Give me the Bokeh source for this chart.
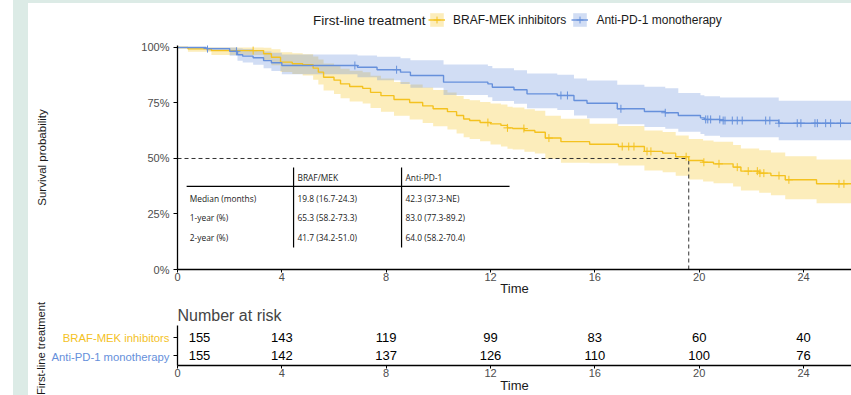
import numpy as np
from bokeh.plotting import figure
from bokeh.models import (Range1d, FixedTicker, PrintfTickFormatter, Legend, LegendItem,
                          Label, ColumnDataSource, Div, Spacer)
from bokeh.layouts import column, row
from bokeh.core.properties import value
from bokeh.embed import file_html
from bokeh.resources import INLINE

# ---------------- data ----------------
groups = ["BRAF-MEK inhibitors", "Anti-PD-1 monotherapy"]
legend_title = "First-line treatment"

braf_time = [0, 0.4, 1.3, 3.3, 3.6, 3.95, 4.4, 4.8, 5.2, 5.4, 5.6, 6.0, 6.25, 6.6, 7.1, 7.4, 7.8, 8.3,
             8.9, 9.4, 9.8, 10.35, 10.7, 10.97, 11.2, 11.6, 12.0, 12.4, 12.65, 12.85, 13.3, 13.7, 14.1,
             14.7, 15.8, 16.9, 17.9, 18.6, 19.1, 19.6, 20.15, 20.55, 21.3, 21.6, 22.3, 22.75, 23.3, 24.5]
braf_surv = [100, 99.4, 98.6, 97.2, 95.6, 93.4, 92.7, 92.2, 90.7, 88.9, 86.6, 85.3, 83.6, 82.4, 81.6,
             79.8, 78.3, 76.6, 75.2, 73.7, 72.4, 71.1, 69.4, 67.8, 67.1, 66.2, 65.6, 64.9, 63.8, 63.5,
             62.6, 61.8, 59.2, 57.6, 56.4, 55.4, 53.2, 52.4, 50.8, 49.1, 48.3, 47.6, 46.1, 44.3, 43.4,
             42.3, 40.4, 38.6]
braf_lower = [100, 98.1, 96.6, 94.3, 92.0, 89.0, 88.1, 87.4, 85.5, 83.3, 80.6, 79.1, 77.1, 75.7, 74.8,
              72.8, 71.1, 69.2, 67.6, 66.0, 64.5, 63.1, 61.3, 59.6, 58.8, 57.8, 56.3, 55.4, 54.4, 54.0,
              53.0, 52.2, 49.8, 48.1, 47.9, 46.8, 44.6, 43.8, 42.2, 40.5, 39.6, 38.9, 37.4, 35.6, 34.6,
              33.5, 31.6, 29.8]
braf_upper = [100, 100, 100, 99.9, 99.2, 97.9, 97.4, 97.0, 95.9, 94.6, 92.8, 91.8, 90.4, 89.5, 88.8,
              87.3, 86.0, 84.5, 83.3, 82.0, 80.8, 79.7, 78.2, 76.8, 76.2, 75.4, 74.8, 74.3, 73.3, 73.0,
              72.2, 71.5, 69.3, 67.9, 65.6, 64.6, 62.6, 61.9, 60.4, 58.8, 58.1, 57.5, 56.1, 54.5, 53.7,
              52.7, 51.0, 49.5]
braf_censor = [2.9, 11.9, 12.65, 13.28, 14.24, 17.05, 17.3, 17.5, 18.0, 18.15, 19.5, 20.18, 20.76,
               21.46, 21.88, 22.23, 22.33, 22.48, 23.06, 23.44, 25.36, 25.55]

pd1_time = [0, 1.1, 2.0, 2.3, 2.5, 2.9, 3.3, 3.6, 4.0, 6.9, 7.65, 8.55, 8.93, 10.2, 11.9, 12.07, 12.9,
            13.4, 14.56, 15.2, 15.7, 16.86, 17.9, 18.7, 19.2, 20.05, 20.2, 20.8, 23.05]
pd1_surv = [100, 99.5, 98.3, 96.7, 96.1, 95.4, 94.1, 93.1, 91.9, 91.1, 90.0, 88.9, 87.4, 84.4, 83.6,
            82.1, 81.0, 79.1, 78.4, 76.1, 74.9, 72.4, 71.2, 70.6, 69.4, 68.3, 67.6, 67.1, 65.9]
pd1_lower = [100, 98.5, 96.3, 94.0, 93.2, 92.2, 90.6, 89.4, 87.9, 86.6, 85.2, 83.6, 81.9, 78.6, 77.6,
             75.9, 74.7, 72.6, 71.8, 69.4, 68.1, 65.4, 64.2, 63.4, 62.1, 61.0, 60.2, 59.6, 58.2]
pd1_upper = [100, 100, 100, 99.6, 99.3, 98.9, 98.2, 97.6, 96.9, 96.4, 95.8, 95.2, 94.2, 92.3, 91.7,
             90.6, 89.8, 88.3, 87.7, 86.0, 85.1, 83.2, 82.3, 81.6, 79.5, 78.5, 78.0, 77.5, 76.0]
pd1_censor = [1.15, 2.26, 6.8, 8.4, 14.7, 14.95, 17.0, 18.7, 20.25, 20.33, 20.44, 20.79, 20.92, 20.99,
              21.27, 21.46, 21.65, 22.55, 22.71, 23.06, 23.76, 23.9, 24.44, 24.53, 24.85, 25.04, 25.42]

followup_end = 26.0

time_breaks = [0, 4, 8, 12, 16, 20, 24]
surv_breaks = [0, 25, 50, 75, 100]
risk_braf = [155, 143, 119, 99, 83, 60, 40]
risk_pd1 = [155, 142, 137, 126, 110, 100, 76]

table_header = ["BRAF/MEK", "Anti-PD-1"]
table_rows = ["Median (months)", "1-year (%)", "2-year (%)"]
table_braf = ["19.8 (16.7-24.3)", "65.3 (58.2-73.3)", "41.7 (34.2-51.0)"]
table_pd1 = ["42.3 (37.3-NE)", "83.0 (77.3-89.2)", "64.0 (58.2-70.4)"]

# ---------------- styles ----------------
YEL = "#F4C21F"
BLU = "#6690DB"
MINT = "#DCEBE6"
FONT = "Liberation Sans"
TFONT = "Open Sans"
X_END = 25.84
BAND_ALPHA = 0.3
NAN = float("nan")


def extend(t, s):
    return list(t) + [followup_end], list(s) + [s[-1]]


series = [
    (braf_time, braf_surv, braf_lower, braf_upper, braf_censor, YEL, groups[0]),
    (pd1_time, pd1_surv, pd1_lower, pd1_upper, pd1_censor, BLU, groups[1]),
]

# ---------------- legend strip (frame aligned with the plot frame) ----------------
top = figure(width=823, height=33, x_range=Range1d(177, 851), y_range=Range1d(36, 3),
             x_axis_location=None, y_axis_location=None,
             min_border_left=149, min_border_right=0, min_border_top=0, min_border_bottom=0,
             output_backend="svg", toolbar_location=None)
top.grid.visible = False
top.outline_line_color = None
leg_items = []
for t, s, lo, hi, cen, col, name in series:
    # legend proxies (no visible data)
    a = top.varea(x=[NAN, NAN], y1=[NAN, NAN], y2=[NAN, NAN], fill_color=col, fill_alpha=BAND_ALPHA)
    l = top.line(x=[NAN, NAN], y=[NAN, NAN], line_color=col, line_width=1.4)
    m = top.scatter(x=[NAN], y=[NAN], marker="cross", size=8, line_color=col, line_width=1)
    leg_items.append(LegendItem(label=name, renderers=[a, l, m]))
legend = Legend(items=leg_items, orientation="horizontal", location=(251, 8),
                padding=0, margin=0, spacing=5, label_standoff=8,
                glyph_width=17, glyph_height=17, border_line_color=None,
                background_fill_alpha=0, label_text_font=FONT, label_text_font_size="12px",
                label_text_color="#1a1a1a", label_text_baseline="middle")
top.add_layout(legend, "center")
top.add_layout(Label(x=425, y=20, text=legend_title, text_align="right", text_baseline="middle",
                     text_font=FONT, text_font_size="13.5px", text_color="#1a1a1a"))

# ---------------- survival plot ----------------
p = figure(width=823, height=264, x_range=Range1d(0, X_END), y_range=Range1d(0, 100.9),
           output_backend="svg", toolbar_location=None,
           min_border_left=149, min_border_right=0, min_border_top=9, min_border_bottom=31)
p.outline_line_color = None
p.grid.visible = False

for t, s, lo, hi, cen, col, name in series:
    tx, lox = extend(t, lo)
    _, hix = extend(t, hi)
    p.varea_step(x=tx, y1=lox, y2=hix, step_mode="after", fill_color=col, fill_alpha=BAND_ALPHA)

# median line (only BRAF-MEK reaches 50%)
med = next(tt for tt, ss in zip(braf_time, braf_surv) if ss <= 50)
p.segment(x0=[0, med], y0=[50, 0], x1=[med, med], y1=[50, 50], line_color="#333333",
          line_width=1, line_dash="4 3")

# summary table inside the plot
tx0, tx1, tx2, txe = 0.35, 4.45, 8.59, 12.73
ty_top, ty_line, ty_bot = 45.9, 37.4, 9.9
p.segment(x0=[tx0, tx1, tx2], y0=[ty_line, ty_bot, ty_bot], x1=[txe, tx1, tx2],
          y1=[ty_line, ty_top, ty_top], line_color="black", line_width=1.2)
row_y = [32.2, 23.2, 14.2]
p.text(x=[tx1 + 0.15, tx2 + 0.15], y=[41.6, 41.6], text=table_header,
       text_font=value(TFONT), text_font_size="8.4px", text_baseline="middle", text_color="#222222")
p.text(x=[tx0 + 0.12] * 3 + [tx1 + 0.15] * 3 + [tx2 + 0.15] * 3, y=row_y * 3,
       text=table_rows + table_braf + table_pd1,
       text_font=value(TFONT), text_font_size="8.4px", text_baseline="middle", text_color="#222222")

for t, s, lo, hi, cen, col, name in series:
    tx, sx = extend(t, s)
    p.step(x=tx, y=sx, mode="after", line_color=col, line_width=1.4)
    idx = np.searchsorted(np.array(t), np.array(cen), side="right") - 1
    p.scatter(x=cen, y=[s[i] for i in idx], marker="cross", size=8, line_color=col, line_width=1)


def style_axes(fig):
    for ax in fig.axis:
        ax.axis_line_color = "black"
        ax.axis_line_width = 1.3
        ax.major_tick_line_color = "black"
        ax.major_tick_out = 3
        ax.major_tick_in = 0
        ax.minor_tick_line_color = None
        ax.major_label_text_font = FONT
        ax.major_label_text_font_size = "11px"
        ax.major_label_text_color = "#4D4D4D"
        ax.axis_label_text_font = FONT
        ax.axis_label_text_font_style = "normal"
        ax.axis_label_text_color = "#1a1a1a"


style_axes(p)
p.xaxis.ticker = FixedTicker(ticks=time_breaks)
p.xaxis.axis_label = "Time"
p.xaxis.axis_label_text_font_size = "13px"
p.xaxis.axis_label_standoff = -3
p.xaxis.major_label_standoff = 0
p.yaxis.ticker = FixedTicker(ticks=surv_breaks)
p.yaxis.formatter = PrintfTickFormatter(format="%d%%")
p.yaxis.axis_label = "Survival probability"
p.yaxis.axis_label_text_font_size = "11.5px"
p.yaxis.axis_label_standoff = 90
p.yaxis.major_tick_out = 4
p.yaxis.major_label_standoff = 4

# ---------------- risk table ----------------
R_H, R_TOP, R_BOT = 95, 25, 28
risk_y = Range1d(-0.03, 2.18)
r = figure(width=681, height=R_H, x_range=p.x_range, y_range=risk_y,
           output_backend="svg", toolbar_location=None,
           min_border_left=7, min_border_right=0, min_border_top=R_TOP, min_border_bottom=R_BOT)
r.outline_line_color = None
r.grid.visible = False
r.title.text = "Number at risk"
r.title.text_font = FONT
r.title.text_font_size = "16px"
r.title.text_font_style = "normal"
r.title.align = "left"
r.title.standoff = 3
r.title.offset = 0

risk_src = ColumnDataSource(dict(
    x=time_breaks + time_breaks,
    y=[1.5] * len(time_breaks) + [0.5] * len(time_breaks),
    text=[str(v) for v in risk_braf + risk_pd1],
    xo=[22 if tt == 0 else 0 for tt in time_breaks + time_breaks],
))
r.text(x="x", y="y", text="text", x_offset="xo", source=risk_src, text_align="center",
       text_baseline="middle", text_font=value(FONT), text_font_size="13px", text_color="black")

style_axes(r)
r.xaxis.ticker = FixedTicker(ticks=time_breaks)
r.xaxis.major_label_standoff = 0
r.xaxis.axis_label = "Time"
r.xaxis.axis_label_text_font_size = "13px"
r.xaxis.axis_label_standoff = -2
r.yaxis.ticker = FixedTicker(ticks=[0.5, 1.5])
r.yaxis.major_tick_out = 4
r.yaxis.major_label_overrides = {0.5: "", 1.5: ""}
r.yaxis.major_label_standoff = 0

# row labels: full-height frame with the same vertical scale as the risk table
ppu = (R_H - R_TOP - R_BOT) / (risk_y.end - risk_y.start)
lab_y = Range1d(risk_y.start - R_BOT / ppu, risk_y.end + R_TOP / ppu)
lab = figure(width=142, height=R_H, x_range=Range1d(28, 170), y_range=lab_y,
             x_axis_location=None, y_axis_location=None, output_backend="svg",
             toolbar_location=None, min_border=0)
lab.frame_align = False
lab.outline_line_color = None
lab.grid.visible = False
lab.text(x=[170, 170], y=[1.5, 0.5], text=groups, text_color=[YEL, BLU], text_align="right",
         x_offset=-1, text_baseline="middle", text_font=value(FONT), text_font_size="11.3px")
lab.text(x=[40], y=[0.97], text=[legend_title], angle=np.pi / 2, text_align="center",
         text_baseline="middle", text_font=value(FONT), text_font_size="11.2px",
         text_color="#1a1a1a")

left_gap = Spacer(width=13, height=395, margin=0)
left_strip = Div(width=15, height=395, margin=0, styles={"background-color": MINT})
top_strip = Div(width=823, height=3, margin=0, styles={"background-color": MINT})
layout = row(left_gap, left_strip,
             column(top_strip, top, p, row(lab, r, spacing=0, margin=0), spacing=0, margin=0),
             spacing=0, margin=0)

open("out.html", "w").write(file_html(layout, INLINE))
